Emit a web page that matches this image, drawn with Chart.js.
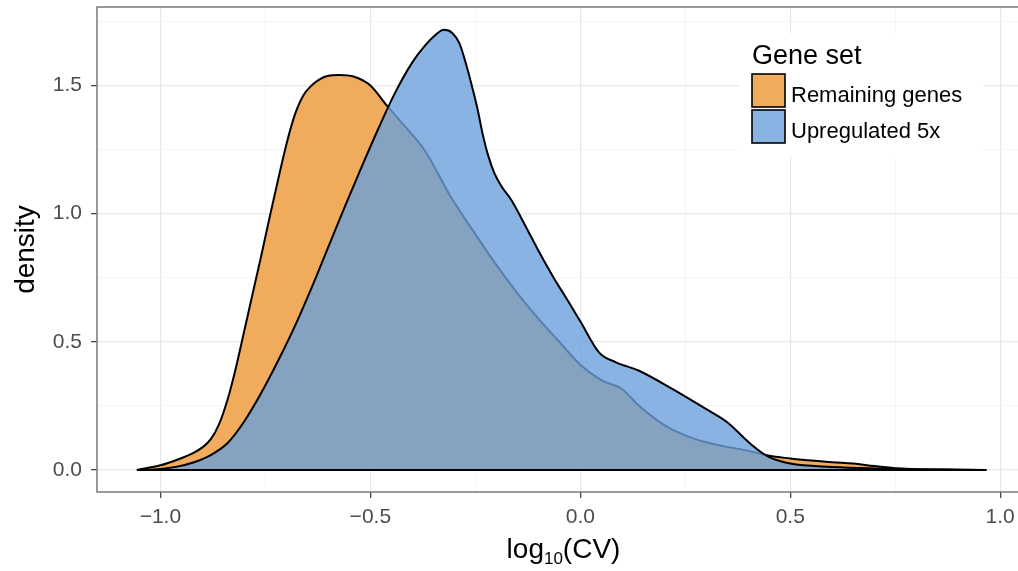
<!DOCTYPE html>
<html>
<head>
<meta charset="utf-8">
<script src="https://cdn.jsdelivr.net/npm/chart.js@4.4.1/dist/chart.umd.min.js"></script>
<style>
  html, body { margin: 0; padding: 0; background: #fff; overflow: hidden; }
  #wrap { width: 1040px; height: 571px; }
</style>
</head>
<body>
<div id="wrap"><canvas id="densityChart"></canvas></div>
<script>
// density of log10(CV), per gene set
var remainingX = [-1.056, -1.0, -0.96, -0.92, -0.9, -0.88, -0.86, -0.84, -0.82, -0.8, -0.78, -0.76, -0.74, -0.72, -0.7, -0.68, -0.66, -0.64, -0.62, -0.6, -0.575, -0.54, -0.5, -0.46, -0.42, -0.37, -0.31, -0.25, -0.2, -0.15, -0.1, -0.05, 0.0, 0.05, 0.1, 0.14, 0.2, 0.25, 0.3, 0.35, 0.4, 0.45, 0.5, 0.55, 0.6, 0.65, 0.7, 0.75, 0.8, 0.9, 0.967];
var remainingY = [0, 0.018, 0.04, 0.068, 0.088, 0.12, 0.18, 0.275, 0.4, 0.545, 0.69, 0.835, 0.985, 1.13, 1.27, 1.385, 1.46, 1.5, 1.525, 1.538, 1.541, 1.535, 1.5, 1.42, 1.345, 1.245, 1.07, 0.92, 0.8, 0.69, 0.59, 0.5, 0.41, 0.35, 0.315, 0.25, 0.175, 0.135, 0.108, 0.09, 0.075, 0.055, 0.045, 0.037, 0.03, 0.025, 0.015, 0.007, 0.003, 0.001, 0];

var upregX = [-1.056, -1.0, -0.96, -0.92, -0.88, -0.84, -0.8, -0.76, -0.72, -0.68, -0.64, -0.6, -0.56, -0.52, -0.48, -0.44, -0.4, -0.37, -0.345, -0.325, -0.305, -0.288, -0.275, -0.26, -0.245, -0.233, -0.22, -0.205, -0.185, -0.165, -0.13, -0.097, -0.06, -0.035, 0.0, 0.045, 0.085, 0.14, 0.22, 0.3, 0.35, 0.39, 0.41, 0.43, 0.45, 0.5, 0.6, 0.7, 0.8, 0.967];
var upregY = [0, 0.004, 0.013, 0.03, 0.058, 0.105, 0.19, 0.3, 0.425, 0.56, 0.71, 0.87, 1.03, 1.185, 1.335, 1.475, 1.59, 1.655, 1.697, 1.717, 1.705, 1.665, 1.6, 1.51, 1.41, 1.314, 1.23, 1.159, 1.1, 1.055, 0.95, 0.847, 0.74, 0.675, 0.58, 0.458, 0.42, 0.387, 0.315, 0.237, 0.186, 0.125, 0.095, 0.07, 0.05, 0.025, 0.012, 0.006, 0.003, 0];

var groupNames = ['Remaining genes', 'Upregulated 5x'];
var legendTitle = 'Gene set';
var xTicks = [-1.0, -0.5, 0.0, 0.5, 1.0];
var yTicks = [0.0, 0.5, 1.0, 1.5];

var xMin = -1.151, xMax = 1.071;
var yMin = -0.086, yMax = 1.806;

var FONT = '"Liberation Sans", Arial, Helvetica, sans-serif';

function toPoints(xs, ys) {
	var pts = [];
	for (var i = 0; i < xs.length; i++) {
		pts.push({ x: xs[i], y: ys[i] });
	}
	return pts;
}

// labelled ticks plus unlabelled minor ones half way between them
function gridTicks(majors, min, max) {
	var step = majors[1] - majors[0];
	var out = [];
	for (var i = -1; i < majors.length; i++) {
		var v = i < 0 ? majors[0] : majors[i];
		if (i >= 0) out.push({ value: v, major: true });
		var m = (i < 0 ? v - step / 2 : v + step / 2);
		if (m >= min && m <= max) out.push({ value: m, major: false });
	}
	out.sort(function (a, b) { return a.value - b.value; });
	return out;
}

function fmt(v) {
	var s = Math.abs(v).toFixed(1);
	return v < 0 ? '\u2212' + s : s;
}

var orangeFill = '#F0AB5C';
var blueFill = 'rgba(108, 160, 219, 0.8)';

var baseline = [
	{ x: Math.min(remainingX[0], upregX[0]), y: 0 },
	{ x: Math.max(remainingX[remainingX.length - 1], upregX[upregX.length - 1]), y: 0 }
];

function gridOpts() {
	return {
		color: function (c) { return c.tick && c.tick.major ? '#e8e8e8' : '#f3f3f3'; },
		lineWidth: function (c) { return c.tick && c.tick.major ? 1.3 : 0.8; },
		tickColor: function (c) { return c.tick && c.tick.major ? '#444' : 'rgba(0,0,0,0)'; },
		tickWidth: 1.3,
		tickLength: 6,
		drawTicks: true
	};
}

// legend box, x title with subscript and the panel frame
var ggExtras = {
	id: 'ggExtras',
	afterDraw: function (chart) {
		var ctx = chart.ctx;
		var area = chart.chartArea;
		ctx.save();

		ctx.fillStyle = '#fff';
		ctx.fillRect(740, 33, 243, 124);

		ctx.fillStyle = '#000';
		ctx.textBaseline = 'alphabetic';
		ctx.textAlign = 'left';
		ctx.font = '27px ' + FONT;
		ctx.fillText(legendTitle, 752, 64);

		var sets = chart.data.datasets.slice(0, 2);
		for (var i = 0; i < sets.length; i++) {
			var top = 74 + i * 36;
			ctx.fillStyle = '#fff';
			ctx.fillRect(752, top, 33, 33);
			ctx.fillStyle = sets[i].backgroundColor;
			ctx.fillRect(752, top, 33, 33);
			ctx.strokeStyle = '#000';
			ctx.lineWidth = 1.6;
			ctx.strokeRect(752, top, 33, 33);
			ctx.fillStyle = '#000';
			ctx.font = '22px ' + FONT;
			ctx.fillText(sets[i].label, 791, top + 28);
		}

		// log10(CV)
		var big = '28px ' + FONT, small = '17px ' + FONT;
		ctx.font = big;
		var w1 = ctx.measureText('log').width;
		var w3 = ctx.measureText('(CV)').width;
		ctx.font = small;
		var w2 = ctx.measureText('10').width;
		var x0 = (area.left + area.right) / 2 - (w1 + w2 + w3) / 2;
		var base = 558;
		ctx.fillStyle = '#000';
		ctx.font = big;
		ctx.fillText('log', x0, base);
		ctx.font = small;
		ctx.fillText('10', x0 + w1, base + 6);
		ctx.font = big;
		ctx.fillText('(CV)', x0 + w1 + w2, base);

		ctx.strokeStyle = '#7a7a7a';
		ctx.lineWidth = 1.5;
		ctx.strokeRect(area.left, area.top, area.right - area.left, area.bottom - area.top);
		ctx.restore();
	}
};

var ctx = document.getElementById('densityChart');

var chart = new Chart(ctx, {
	type: 'line',
	data: {
		datasets: [
			{
				label: groupNames[0],
				data: toPoints(remainingX, remainingY),
				backgroundColor: orangeFill,
				borderColor: '#000',
				borderWidth: 2,
				fill: 'origin',
				pointRadius: 0,
				cubicInterpolationMode: 'monotone',
				order: 2
			},
			{
				label: groupNames[1],
				data: toPoints(upregX, upregY),
				backgroundColor: blueFill,
				borderColor: '#000',
				borderWidth: 2,
				fill: 'origin',
				pointRadius: 0,
				cubicInterpolationMode: 'monotone',
				order: 1
			},
			{
				label: 'baseline',
				data: baseline,
				borderColor: '#000',
				borderWidth: 2,
				fill: false,
				pointRadius: 0,
				order: 0
			}
		]
	},
	options: {
		responsive: true,
		maintainAspectRatio: false,
		animation: false,
		devicePixelRatio: 1,
		layout: { padding: { top: 7, right: 10, left: 0, bottom: 0 } },
		plugins: {
			legend: { display: false },
			tooltip: { enabled: false }
		},
		scales: {
			x: {
				type: 'linear',
				min: xMin,
				max: xMax,
				afterBuildTicks: function (scale) { scale.ticks = gridTicks(xTicks, xMin, xMax); },
				afterFit: function (scale) {
					scale.height = 79;
					scale.paddingLeft = 0;
					scale.paddingRight = 0;
				},
				border: { display: false },
				grid: gridOpts(),
				ticks: {
					autoSkip: false,
					maxRotation: 0,
					padding: 7,
					color: '#4d4d4d',
					font: { family: FONT, size: 21 },
					callback: function (v, i, ticks) { return ticks[i].major ? fmt(v) : ''; }
				}
			},
			y: {
				type: 'linear',
				min: yMin,
				max: yMax,
				afterBuildTicks: function (scale) { scale.ticks = gridTicks(yTicks, yMin, yMax); },
				afterFit: function (scale) {
					scale.width = 97;
					scale.paddingTop = 0;
					scale.paddingBottom = 0;
				},
				border: { display: false },
				grid: gridOpts(),
				title: {
					display: true,
					text: 'density',
					color: '#000',
					font: { family: FONT, size: 28 },
					padding: { top: 9, bottom: 0 }
				},
				ticks: {
					autoSkip: false,
					padding: 9,
					color: '#4d4d4d',
					font: { family: FONT, size: 21 },
					callback: function (v, i, ticks) { return ticks[i].major ? fmt(v) : ''; }
				}
			}
		}
	},
	plugins: [ggExtras]
});
</script>
</body>
</html>
